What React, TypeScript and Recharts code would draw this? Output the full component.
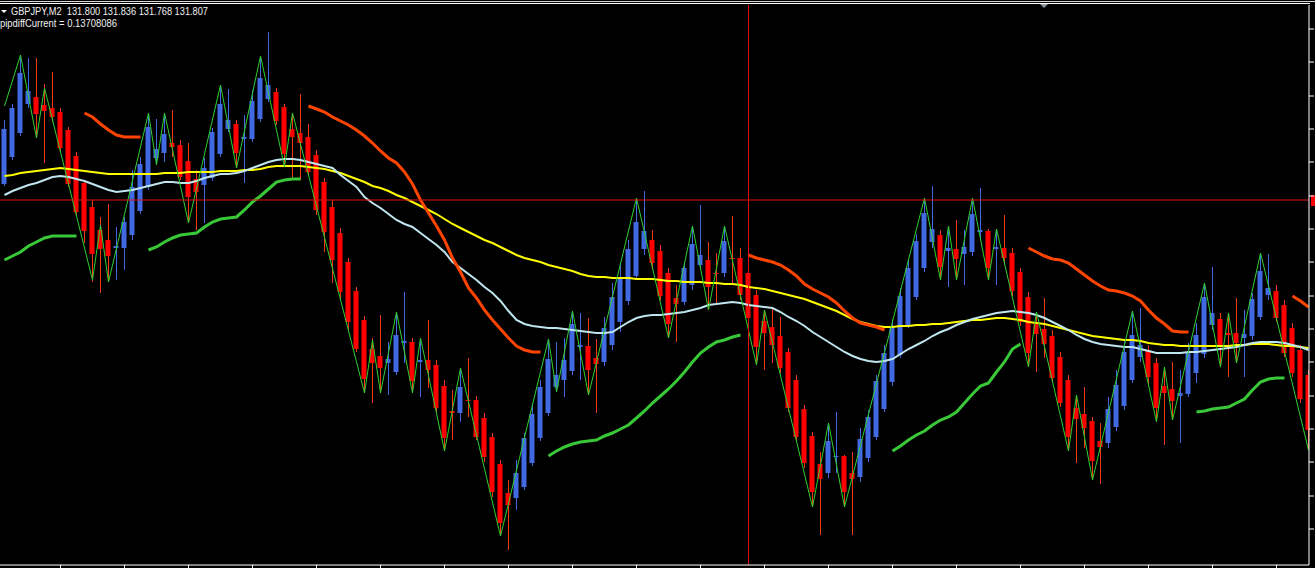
import React from "react";
import { Bar, ComposedChart, Line, ReferenceLine, XAxis, YAxis } from "recharts";

// GBPJPY M2 bars, prices in points (1 pt = 0.001) above 131.672
const OPEN = [
  381, 408, 432, 461, 468, 460, 457, 453, 435, 409,
  382, 358, 335, 325, 317, 317, 330, 354, 378, 407,
  412, 422, 420, 404, 386, 380, 387, 411, 436, 441,
  426, 426, 446, 466, 473, 458, 436, 432, 428, 410,
  383, 358, 332, 303, 274, 245, 216, 209, 202, 193,
  222, 223, 203, 205, 200, 179, 154, 152, 165, 165,
  147, 128, 101, 72, 67, 78, 102, 127, 152, 178,
  185, 194, 218, 219, 207, 203, 220, 243, 264, 289,
  316, 325, 314, 292, 267, 263, 280, 300, 305, 292,
  292, 307, 307, 292, 270, 244, 238, 229, 213, 185,
  156, 129, 101, 92, 108, 109, 92, 88, 107, 128,
  156, 183, 210, 240, 268, 297, 323, 330, 314, 316,
  311, 313, 333, 334, 316, 317, 312, 293, 268, 242,
  236, 229, 208, 185, 157, 151, 144, 124, 122, 138,
  159, 185, 208, 215, 202, 179, 176, 169, 171, 192,
  211, 240, 246, 232, 232, 227, 229, 248, 270, 274,
  260, 237, 215, 190,
];
const HIGH = [
  445, 461, 510, 507, 507, 481, 493, 457, 438, 413,
  385, 365, 348, 361, 338, 348, 395, 408, 452, 446,
  452, 455, 425, 422, 395, 407, 437, 480, 476, 445,
  450, 475, 509, 533, 477, 461, 452, 471, 441, 415,
  387, 365, 337, 307, 278, 249, 227, 250, 223, 253,
  273, 227, 227, 245, 205, 185, 175, 197, 207, 169,
  152, 132, 105, 85, 105, 132, 160, 185, 226, 223,
  227, 254, 252, 247, 226, 248, 282, 302, 325, 367,
  374, 335, 320, 297, 280, 303, 339, 360, 323, 312,
  339, 349, 317, 308, 275, 255, 258, 248, 217, 190,
  160, 133, 113, 142, 153, 110, 113, 137, 155, 190,
  220, 245, 277, 305, 331, 367, 379, 335, 339, 345,
  335, 367, 377, 336, 336, 350, 317, 297, 273, 253,
  267, 235, 213, 190, 170, 178, 148, 142, 168, 195,
  225, 254, 257, 220, 207, 198, 203, 195, 222, 242,
  282, 298, 252, 252, 267, 255, 272, 312, 311, 280,
  265, 242, 220, 195,
];
const LOW = [
  379, 405, 429, 457, 427, 402, 443, 413, 378, 349,
  322, 283, 272, 283, 285, 295, 325, 351, 375, 400,
  403, 408, 385, 342, 335, 342, 384, 408, 433, 397,
  382, 423, 443, 463, 440, 398, 387, 385, 389, 350,
  313, 282, 265, 235, 213, 172, 162, 172, 170, 190,
  202, 172, 168, 177, 153, 114, 125, 143, 148, 125,
  103, 68, 29, 15, 55, 75, 99, 124, 149, 173,
  168, 190, 185, 170, 152, 199, 215, 233, 260, 285,
  310, 295, 265, 227, 223, 260, 275, 297, 255, 260,
  288, 282, 265, 240, 200, 195, 202, 192, 153, 123,
  97, 58, 30, 87, 92, 58, 30, 83, 103, 125,
  153, 179, 207, 237, 265, 293, 317, 285, 278, 285,
  280, 309, 325, 285, 280, 300, 269, 239, 198, 193,
  207, 183, 158, 114, 102, 117, 85, 81, 117, 134,
  155, 182, 203, 180, 143, 120, 145, 122, 168, 182,
  207, 235, 198, 188, 202, 188, 225, 245, 265, 243,
  208, 188, 162, 115,
];
const CLOSE = [
  436, 457, 492, 474, 451, 454, 448, 417, 381, 353,
  334, 311, 316, 309, 319, 343, 378, 401, 438, 416,
  431, 418, 388, 368, 373, 397, 433, 461, 445, 412,
  428, 464, 487, 480, 444, 411, 428, 422, 393, 355,
  333, 305, 273, 243, 216, 186, 202, 197, 206, 230,
  224, 184, 205, 195, 157, 127, 152, 178, 164, 128,
  108, 73, 42, 60, 92, 127, 151, 178, 206, 190,
  205, 241, 220, 195, 201, 237, 268, 288, 316, 343,
  334, 302, 269, 241, 261, 297, 321, 310, 278, 291,
  324, 306, 270, 247, 218, 232, 220, 197, 157, 128,
  102, 73, 86, 124, 109, 73, 86, 126, 148, 184,
  212, 237, 269, 297, 324, 352, 336, 298, 317, 306,
  318, 351, 335, 297, 318, 307, 274, 243, 212, 231,
  221, 187, 162, 128, 146, 137, 104, 118, 156, 180,
  213, 230, 220, 188, 157, 172, 164, 172, 212, 230,
  268, 252, 219, 230, 222, 231, 266, 294, 277, 247,
  212, 192, 166, 135,
];

// yellow (slow) and light blue (fast) moving averages
const MA_SLOW = [
  389, 390, 392, 393, 394, 395, 396, 397, 396, 395,
  394, 393, 392, 391, 391, 391, 391, 391, 391, 391,
  392, 392, 392, 393, 393, 393, 393, 394, 394, 394,
  395, 395, 396, 398, 399, 399, 399, 399, 398, 397,
  396, 394, 392, 389, 386, 383, 379, 377, 374, 370,
  367, 363, 359, 355, 351, 346, 341, 337, 333, 329,
  325, 322, 318, 314, 310, 307, 305, 303, 300, 298,
  296, 294, 291, 289, 288, 288, 287, 287, 287, 286,
  286, 286, 285, 284, 284, 283, 283, 283, 282, 282,
  281, 281, 280, 278, 277, 276, 274, 272, 270, 268,
  266, 263, 260, 257, 254, 250, 246, 243, 241, 239,
  238, 238, 239, 239, 240, 240, 241, 241, 242, 243,
  244, 245, 245, 246, 247, 247, 246, 245, 243, 242,
  241, 239, 237, 235, 233, 231, 229, 228, 227, 226,
  225, 225, 224, 222, 221, 220, 220, 219, 219, 219,
  219, 219, 219, 219, 220, 220, 221, 221, 221, 220,
  219, 219, 218, 217,
];
const MA_FAST = [
  370, 374, 377, 380, 382, 385, 388, 389, 388, 386,
  384, 381, 378, 375, 373, 374, 375, 377, 379, 381,
  383, 383, 382, 382, 384, 387, 389, 391, 391, 392,
  394, 397, 400, 403, 405, 406, 406, 405, 403, 401,
  399, 397, 390, 384, 378, 368, 362, 357, 351, 345,
  341, 338, 332, 326, 320, 313, 303, 297, 291, 285,
  278, 272, 264, 254, 245, 241, 239, 238, 237, 237,
  236, 235, 234, 233, 232, 232, 233, 238, 243, 247,
  249, 250, 250, 251, 252, 253, 255, 257, 260, 261,
  262, 263, 262, 260, 259, 258, 257, 253, 248, 244,
  239, 233, 228, 223, 218, 213, 209, 206, 204, 203,
  204, 206, 211, 216, 220, 224, 229, 233, 236, 240,
  243, 246, 248, 250, 252, 253, 254, 253, 252, 250,
  247, 243, 239, 235, 230, 226, 223, 221, 220, 219,
  218, 218, 216, 214, 212, 212, 212, 212, 213, 213,
  214, 215, 216, 217, 218, 220, 222, 223, 223, 223,
  222, 220, 218, 215,
];

// trailing band: orange above price in down legs, green below in up legs
const DOWN_BAND = [
  { from: 10, values: [452, 448, 441, 435, 430, 428, 428, 428] },
  {
    from: 38,
    values: [
      459, 456, 453, 448, 444, 440, 435, 429, 422, 414, 407, 402, 393, 381, 365,
      352, 339, 325, 307, 293, 277, 267, 255, 245, 236, 227, 219, 215, 213, 213,
    ],
  },
  {
    from: 93,
    values: [310, 307, 305, 303, 300, 295, 289, 281, 276, 272, 268, 262, 254, 247, 242, 240, 238, 235],
  },
  {
    from: 128,
    values: [317, 313, 309, 306, 305, 302, 296, 290, 284, 279, 275, 274, 272, 269, 264, 255, 247, 241, 234, 233, 233],
  },
  { from: 161, values: [269, 264, 258] },
];
const UP_BAND = [
  { from: 0, values: [305, 309, 313, 319, 323, 327, 329, 329, 329, 329] },
  {
    from: 18,
    values: [315, 318, 323, 327, 330, 331, 332, 338, 343, 346, 347, 348, 355, 363, 369, 376, 383, 385, 386, 386],
  },
  {
    from: 68,
    values: [
      109, 114, 118, 121, 123, 124, 125, 129, 132, 136, 140, 147, 154, 162, 169,
      176, 184, 193, 203, 212, 218, 223, 225, 228, 230,
    ],
  },
  {
    from: 111,
    values: [114, 119, 125, 130, 134, 140, 145, 148, 153, 162, 171, 179, 182, 193, 203, 216, 221],
  },
  { from: 149, values: [153, 154, 156, 157, 158, 162, 166, 175, 183, 186, 187, 187] },
];

// zigzag pivots
const ZZ_BARS = [
  0, 2, 4, 5, 11, 12, 13, 18, 19, 20, 23, 27, 29, 32, 35, 36, 45, 46, 47, 49,
  51, 52, 55, 57, 62, 68, 69, 71, 73, 79, 83, 86, 88, 90, 94, 95, 101, 103, 105,
  115, 117, 118, 119, 121, 123, 124, 128, 129, 133, 134, 136, 141, 144, 145, 146,
  150, 152, 153, 154, 157, 163,
];
const ZZ_LEVEL = [
  459, 510, 427, 477, 285, 340, 283, 452, 400, 452, 342, 480, 397, 509, 398, 452,
  172, 225, 172, 253, 172, 227, 114, 197, 29, 226, 173, 254, 170, 367, 227, 339,
  255, 339, 200, 255, 58, 142, 58, 367, 285, 339, 285, 367, 285, 336, 198, 253,
  114, 170, 85, 254, 143, 198, 145, 282, 198, 252, 202, 312, 115,
];

const TIME_TICKS = [7, 15, 23, 31, 39, 47, 55, 63, 71, 79, 87, 95, 103, 111, 119, 127, 135, 143, 151, 159];
const PRICE_TICKS = [36, 69, 103, 136, 169, 203, 236, 269, 303, 336, 369, 403, 436, 469, 503, 536];

const CROSS_BAR = 93;
const CROSS_PRICE = 365;

const SYMBOL = "GBPJPY,M2";
const OHLC_TEXT = "131.800 131.836 131.768 131.807";
const PIPDIFF_TEXT = "pipdiffCurrent = 0.13708086";

function spread(segs: { from: number; values: number[] }[]) {
  const out: (number | null)[] = OPEN.map(() => null);
  segs.forEach((s) => s.values.forEach((v, k) => (out[s.from + k] = v)));
  return out;
}

const upper = spread(DOWN_BAND);
const lower = spread(UP_BAND);
const zz: (number | null)[] = OPEN.map(() => null);
ZZ_BARS.forEach((b, k) => (zz[b] = ZZ_LEVEL[k]));

const rows = OPEN.map((o, i) => ({
  i,
  o,
  h: HIGH[i],
  l: LOW[i],
  c: CLOSE[i],
  range: [LOW[i], HIGH[i]],
  slow: MA_SLOW[i],
  fast: MA_FAST[i],
  upper: upper[i],
  lower: lower[i],
  zz: zz[i],
}));

function Candle(props: any) {
  const { x, y, width, height, payload } = props;
  const { o, h, l, c } = payload;
  if (h === l || !height) return null;
  const k = height / (h - l);
  const up = c >= o;
  const top = y + (h - Math.max(o, c)) * k;
  const bh = Math.max(1, Math.abs(o - c) * k);
  const cx = Math.floor(x + width / 2);
  return (
    <g>
      <rect x={cx} y={y} width={1} height={height} fill={up ? "#4169e1" : "#f23a16"} />
      <rect x={x} y={top} width={width} height={bh} fill={up ? "#4169e1" : "#ff0000"} />
    </g>
  );
}

function PriceMarker(props: any) {
  const vb = props.viewBox;
  if (!vb) return null;
  return <rect x={vb.x + vb.width + 2} y={vb.y - 5} width={6} height={11} fill="#ff0000" />;
}

const FONT = "'Liberation Sans', Arial, sans-serif";

export default function App() {
  return (
    <div
      style={{
        position: "absolute",
        left: 0,
        top: 0,
        width: 1315,
        height: 568,
        background: "#000",
        overflow: "hidden",
      }}
    >
      <ComposedChart
        width={1315}
        height={568}
        data={rows}
        margin={{ top: 5, right: 0, bottom: 0, left: 0 }}
      >
        <XAxis
          dataKey="i"
          type="number"
          domain={[-0.5625, 163.0625]}
          allowDataOverflow
          ticks={TIME_TICKS}
          tickFormatter={() => ""}
          axisLine={{ stroke: "#ffffff" }}
          tickLine={{ stroke: "#ffffff" }}
          tickSize={4}
          height={3}
        />
        <YAxis
          orientation="right"
          domain={[0, 560]}
          allowDataOverflow
          ticks={PRICE_TICKS}
          tickFormatter={() => ""}
          axisLine={{ stroke: "#ffffff" }}
          tickLine={{ stroke: "#ffffff" }}
          tickSize={5}
          width={6}
        />
        <Bar dataKey="range" barSize={5} shape={<Candle />} isAnimationActive={false} />
        <Line dataKey="slow" stroke="#ffff00" strokeWidth={2} dot={false} isAnimationActive={false} />
        <Line dataKey="fast" stroke="#bfe6ee" strokeWidth={2} dot={false} isAnimationActive={false} />
        <Line dataKey="upper" stroke="#ff4500" strokeWidth={3} dot={false} isAnimationActive={false} />
        <Line dataKey="lower" stroke="#38c838" strokeWidth={3} dot={false} isAnimationActive={false} />
        <Line
          dataKey="zz"
          stroke="#30d030"
          strokeWidth={1}
          dot={false}
          connectNulls
          isAnimationActive={false}
        />
        <ReferenceLine x={CROSS_BAR} stroke="#e01010" strokeWidth={1} />
        <ReferenceLine y={CROSS_PRICE} stroke="#e01010" strokeWidth={1} label={<PriceMarker />} />
      </ComposedChart>
      <svg
        width={1315}
        height={568}
        style={{ position: "absolute", left: 0, top: 0, pointerEvents: "none" }}
      >
        <rect x={0} y={1} width={1315} height={1} fill="#d8d8d8" />
        <rect x={0} y={3} width={1310} height={1} fill="#ffffff" />
        <polygon points="1040,4 1048,4 1044,8" fill="#8c96a2" />
        <polygon points="1,10 7,10 4,13" fill="#ffffff" />
        <text
          x={11}
          y={15}
          fontSize={10}
          fontFamily={FONT}
          fill="#f0f0f0"
          textLength={197}
          lengthAdjust="spacingAndGlyphs"
          style={{ whiteSpace: "pre" }}
        >
          {SYMBOL + "  " + OHLC_TEXT}
        </text>
        <text
          x={0}
          y={27}
          fontSize={10}
          fontFamily={FONT}
          fill="#f0f0f0"
          textLength={117}
          lengthAdjust="spacingAndGlyphs"
        >
          {PIPDIFF_TEXT}
        </text>
      </svg>
    </div>
  );
}
